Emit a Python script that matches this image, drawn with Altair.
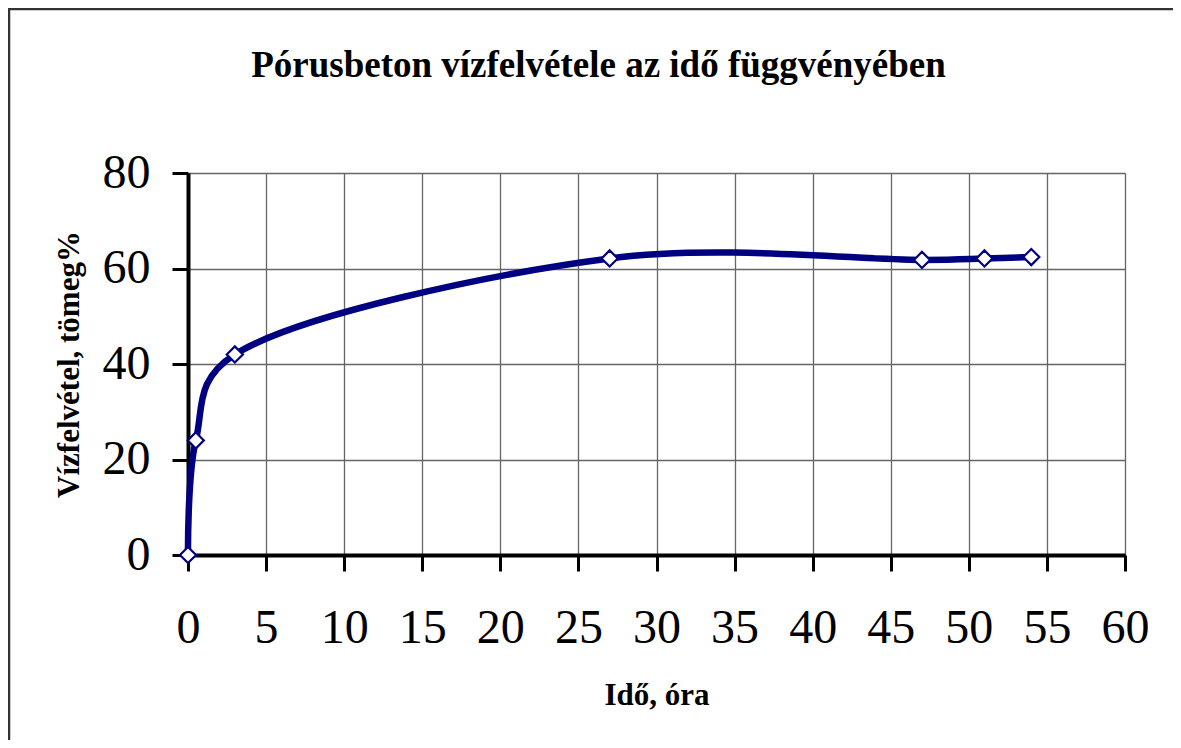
import altair as alt
import pandas as pd

# --- data ---
time_h = [0, 0.5, 3, 27, 47, 51, 54]
uptake = [0, 24, 42, 62.1, 61.8, 62.1, 62.4]
x_ticks = [0, 5, 10, 15, 20, 25, 30, 35, 40, 45, 50, 55, 60]
y_ticks = [0, 20, 40, 60, 80]
title_text = "Pórusbeton vízfelvétele az idő függvényében"
x_title = "Idő, óra"
y_title = "Vízfelvétel, tömeg%"

df = pd.DataFrame({"t": time_h, "w": uptake})

NAVY = "#000080"
FONT = "Liberation Serif"
GRID = "#666666"

x_enc = alt.X(
    "t:Q",
    scale=alt.Scale(domain=[0, 60], nice=False, zero=True),
    axis=alt.Axis(
        values=x_ticks, format="d", title=x_title,
        labelFont=FONT, labelFontSize=48, labelColor="black", labelPadding=33,
        labelFlush=False, labelOverlap=False,
        tickSize=16, tickWidth=3, tickColor="black",
        domainColor="black", domainWidth=4,
        grid=True, gridColor=GRID, gridWidth=1.3,
        titleFont=FONT, titleFontSize=31, titleFontWeight="bold", titleColor="black",
        titleBaseline="alphabetic", titleY=149,
    ),
)
y_enc = alt.Y(
    "w:Q",
    scale=alt.Scale(domain=[0, 80], nice=False, zero=True),
    axis=alt.Axis(
        values=y_ticks, format="d", title=y_title,
        labelFont=FONT, labelFontSize=48, labelColor="black", labelPadding=22,
        labelFlush=False, labelOverlap=False,
        tickSize=16, tickWidth=3, tickColor="black",
        domainColor="black", domainWidth=4,
        grid=True, gridColor=GRID, gridWidth=1.3,
        titleFont=FONT, titleFontSize=31, titleFontWeight="bold", titleColor="black",
        titleAngle=270, titleAlign="center", titleBaseline="alphabetic",
        titleX=-110, titleY=191,
    ),
)

base = alt.Chart(df)
line = base.mark_line(
    color=NAVY, strokeWidth=6.5, interpolate="catmull-rom", tension=0.3
).encode(x=x_enc, y=y_enc)
points = base.mark_point(
    shape="diamond", filled=True, fill="white", stroke=NAVY, strokeWidth=2.2, size=260, opacity=1
).encode(x="t:Q", y="w:Q")

border = alt.Chart(alt.Data(values=[{}])).mark_rect(
    fill="white", fillOpacity=0, stroke="#333333", strokeWidth=2.5, clip=False
).encode(x=alt.value(-179), x2=alt.value(1100), y=alt.value(-164), y2=alt.value(700))

chart = alt.layer(border, line, points).properties(
    width=937,
    height=382,
    autosize=alt.AutoSizeParams(type="none"),
    padding={"left": 180, "top": 165, "right": 48, "bottom": 185},
    title=alt.TitleParams(
        title_text, font=FONT, fontSize=37, fontWeight="bold", color="black",
        anchor="middle", frame="group", dx=-58, baseline="alphabetic", offset=-106,
    ),
).configure_view(stroke="#808080", strokeWidth=3).configure(background="white")

chart.save("out.html", embed_options={"renderer": "svg", "actions": False})
